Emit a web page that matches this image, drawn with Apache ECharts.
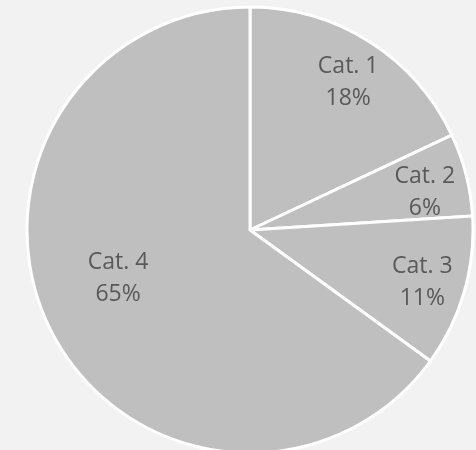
<!DOCTYPE html>
<html><head><meta charset="utf-8">
<script src="https://cdn.jsdelivr.net/npm/echarts@6/dist/echarts.min.js"></script>
<style>html,body{margin:0;padding:0;background:#f2f2f2;}#c{width:476px;height:450px;}</style>
</head><body><div id="c"></div>
<script>
const categories = ['Cat. 1', 'Cat. 2', 'Cat. 3', 'Cat. 4'];
const values = [18, 6, 11, 65];
const chart = echarts.init(document.getElementById('c'), null, {renderer: 'canvas'});
const data = categories.map((c, i) => ({name: c, value: values[i]}));
chart.setOption({
  backgroundColor: '#f2f2f2',
  animation: false,
  series: [{
    type: 'pie',
    center: [250, 230],
    radius: [0, 223],
    startAngle: 90,
    clockwise: true,
    silent: true,
    data: data,
    itemStyle: {color: '#bfbfbf', borderColor: '#ffffff', borderWidth: 3},
    label: {show: false},
    labelLine: {show: false}
  }, {
    type: 'pie',
    center: [250, 230],
    radius: [130, 223],
    startAngle: 90,
    clockwise: true,
    silent: true,
    data: data,
    itemStyle: {color: 'transparent', borderWidth: 0},
    label: {
      show: true,
      position: 'inside',
      formatter: function (p) { return p.name + '\n' + Math.round(p.percent) + '%'; },
      color: '#595959',
      fontFamily: 'Open Sans',
      fontSize: 23,
      lineHeight: 32
    },
    labelLine: {show: false},
    labelLayout: function (p) {
      if (p.dataIndex === 0) return {dx: 2, dy: 4};
      if (p.dataIndex === 1) return {dx: 1, dy: 7};
      if (p.dataIndex === 2) return {dx: 0, dy: 2};
      if (p.dataIndex === 3) return {dx: 28, dy: -33};
      return {};
    }
  }]
});
</script></body></html>
